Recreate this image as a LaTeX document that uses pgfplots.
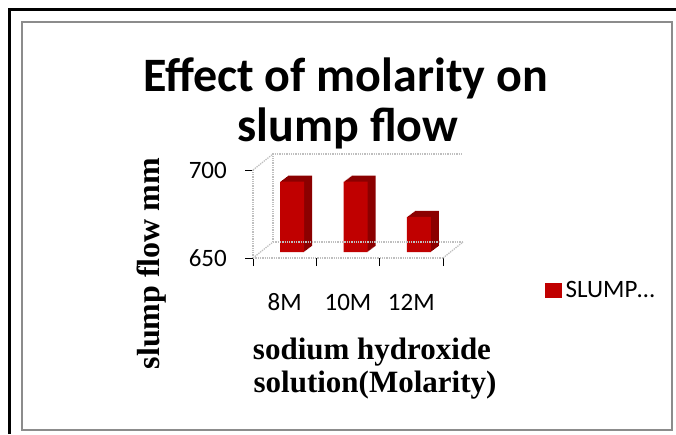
\documentclass[border=0pt]{standalone}
\usepackage{pgfplots}
\pgfplotsset{compat=1.18}
\usepackage{pgfplotstable}
\usepackage{fontspec}
\setmainfont{Liberation Serif}
\newfontfamily\calibri{Carlito}
\definecolor{barred}{HTML}{C00000}
\definecolor{bardark}{HTML}{8B0000}
\definecolor{framegray}{HTML}{8C8C8C}
\definecolor{gridgray}{HTML}{BFBFBF}
\pgfplotstableread{
x y
0 690
1 690
2 670
}\slump
\pgfplotsset{
  barplane/.style={
    anchor=south west, scale only axis, width=190pt, height=88pt,
    xmin=-0.5, xmax=2.5, ymin=650, ymax=700,
    axis lines=none, ticks=none, ybar, bar width=24pt,
  }
}
\begin{document}
\begin{tikzpicture}
\useasboundingbox (0,0) rectangle (676pt,434pt);
% frame
\draw[framegray, line width=2pt] (22pt,4pt) rectangle (672pt,412pt);
\draw[black, line width=3pt] (9.5pt,0pt) -- (9.5pt,424.5pt) -- (676pt,424.5pt);
% extrusion (side and top faces)
\foreach \k in {8,7,...,1} {
  \begin{axis}[barplane, at={({(260.5+\k)*1pt},{(182+0.75*\k)*1pt})}]
    \addplot[fill=bardark, draw=none] table[x=x, y=y] {\slump};
  \end{axis}
}
% front faces
\begin{axis}[barplane, at={(260.5pt,182pt)}]
  \addplot[fill=barred, draw=none] table[x=x, y=y] {\slump};
\end{axis}
% front axis
\begin{axis}[
  name=front, at={(253pt,176pt)}, anchor=south west,
  scale only axis, width=190pt, height=88pt,
  xmin=-0.5, xmax=2.5, ymin=650, ymax=700,
  axis x line*=bottom, axis y line*=left,
  axis line style={gridgray, densely dotted, line width=1.3pt, -},
  xtick={-0.5,0.5,1.5,2.5}, xticklabels={,,,},
  extra x ticks={0,1,2}, extra x tick labels={8M,10M,12M},
  extra x tick style={major tick length=0pt,
    tick label style={anchor=center, yshift=-44pt, inner sep=0pt}},
  ytick={650,700},
  tick align=outside, major tick length=8pt,
  tick style={black, solid, line width=0.8pt},
  /pgf/number format/assume math mode=true,
  tick label style={font=\calibri\fontsize{25}{25}\selectfont},
  yticklabel style={anchor=east, inner sep=0pt, xshift=-18pt},
  legend style={at={(1.537,-0.364)}, anchor=west, draw=none, fill=none,
    inner sep=0pt, font=\calibri\fontsize{25}{25}\selectfont},
  legend image code/.code={\fill[barred] (0pt,-7pt) rectangle (16pt,7pt);},
  clip=false,
]
  \addlegendimage{barred}
  \addlegendentry{\hspace*{2pt}SLUMP…}
\end{axis}
% 3D back wall and floor
\begin{scope}[gridgray, densely dotted, line width=1.3pt]
  \draw ([shift={(20pt,16pt)}]front.south west) -- ([shift={(20pt,16pt)}]front.north west) -- ([shift={(20pt,16pt)}]front.north east);
  \draw ([shift={(20pt,16pt)}]front.south west) -- ([shift={(20pt,16pt)}]front.south east);
  \draw (front.north west) -- ([shift={(20pt,16pt)}]front.north west);
  \draw (front.south west) -- ([shift={(20pt,16pt)}]front.south west);
  \draw (front.south east) -- ([shift={(20pt,16pt)}]front.south east);
\end{scope}
% titles and labels
\node[anchor=base, font=\calibri\bfseries\fontsize{48}{48}\selectfont] at (345.5pt,342pt) {Effect of molarity on};
\node[anchor=base, font=\calibri\bfseries\fontsize{48}{48}\selectfont] at (348pt,292pt) {slump flow};
\node[rotate=90, font=\bfseries\fontsize{32}{32}\selectfont] at (152pt,170.5pt) {slump flow mm};
\node[anchor=base, font=\bfseries\fontsize{31}{31}\selectfont] at (372pt,75pt) {sodium hydroxide};
\node[anchor=base, font=\bfseries\fontsize{31}{31}\selectfont] at (375pt,42pt) {solution(Molarity)};
\end{tikzpicture}
\end{document}
